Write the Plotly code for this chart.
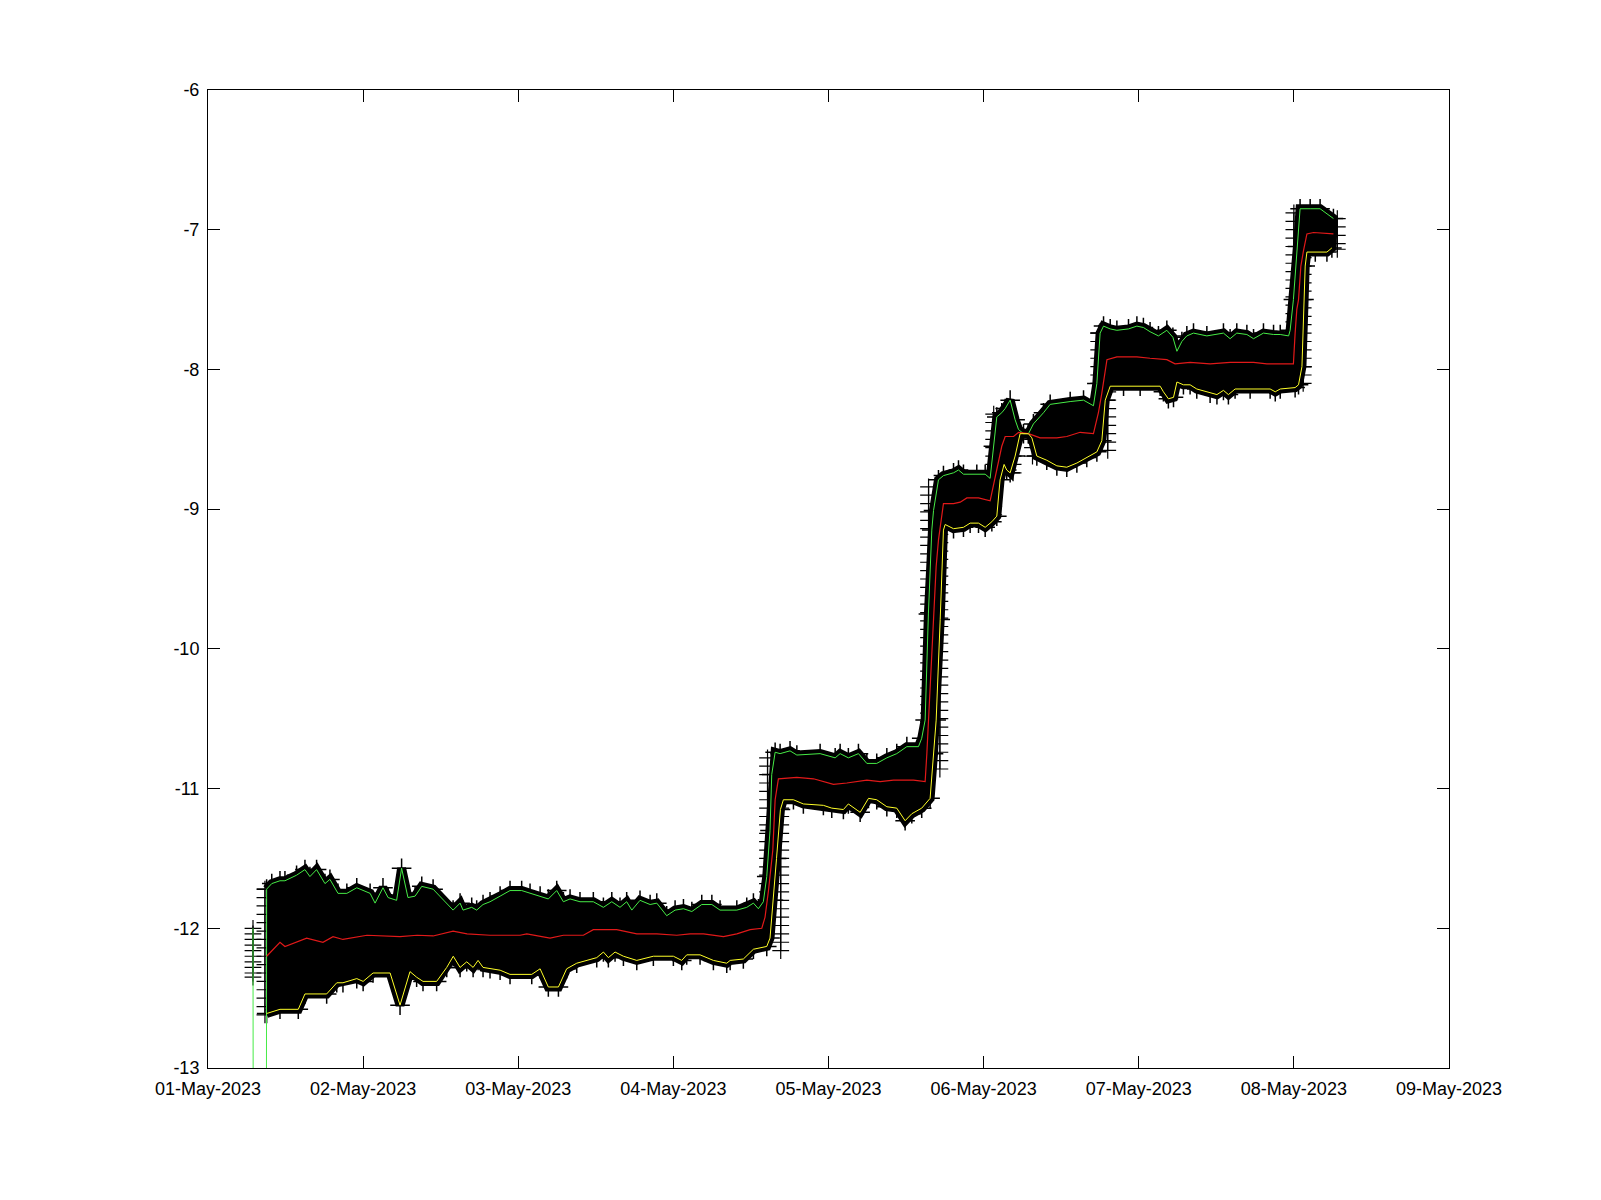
import pandas as pd
import plotly.graph_objs as go

BASE_DAY = pd.Timestamp("2023-05-01")

# days since 01-May-2023
UPPER_T = [0.378, 0.411, 0.464, 0.496, 0.571, 0.625, 0.657, 0.700, 0.754, 0.786, 0.838, 0.895,
           0.959, 1.045, 1.077, 1.128, 1.161, 1.216, 1.248, 1.289, 1.335, 1.378, 1.451, 1.580,
           1.625, 1.644, 1.700, 1.732, 1.773, 1.818, 1.883, 1.947, 2.022, 2.076, 2.141, 2.194,
           2.248, 2.291, 2.334, 2.398, 2.484, 2.549, 2.603, 2.656, 2.699, 2.732, 2.785, 2.850,
           2.893, 2.957, 3.011, 3.065, 3.119, 3.183, 3.248, 3.301, 3.409, 3.473, 3.516, 3.548,
           3.580, 3.602, 3.623, 3.634, 3.656, 3.688, 3.752, 3.796, 3.946, 4.043, 4.075, 4.128,
           4.193, 4.247, 4.311, 4.376, 4.440, 4.505, 4.580, 4.601, 4.623, 4.644, 4.666, 4.677,
           4.709, 4.741, 4.806, 4.838, 4.870, 4.956, 5.010, 5.042, 5.063, 5.085, 5.117, 5.139,
           5.171, 5.203, 5.225, 5.257, 5.289, 5.321, 5.386, 5.429, 5.558, 5.644, 5.708, 5.730,
           5.751, 5.773, 5.816, 5.859, 5.934, 5.988, 6.030, 6.073, 6.127, 6.181, 6.220, 6.246,
           6.278, 6.310, 6.353, 6.439, 6.546, 6.589, 6.632, 6.697, 6.740, 6.804, 6.869, 6.912,
           6.966, 6.976, 6.997, 7.023, 7.040, 7.105, 7.169, 7.255]
UPPER_V = [-11.72, -11.68, -11.66, -11.66, -11.62, -11.58, -11.63, -11.58, -11.68, -11.65, -11.75, -11.75,
           -11.71, -11.75, -11.82, -11.71, -11.78, -11.80, -11.57, -11.78, -11.77, -11.70, -11.72, -11.87,
           -11.82, -11.87, -11.85, -11.87, -11.83, -11.81, -11.77, -11.73, -11.73, -11.75, -11.77, -11.79,
           -11.73, -11.81, -11.79, -11.81, -11.81, -11.85, -11.81, -11.85, -11.81, -11.87, -11.80, -11.83,
           -11.82, -11.91, -11.87, -11.86, -11.88, -11.83, -11.83, -11.87, -11.87, -11.85, -11.82, -11.86,
           -11.81, -11.63, -11.30, -10.90, -10.74, -10.75, -10.73, -10.76, -10.75, -10.78, -10.75, -10.78,
           -10.75, -10.82, -10.82, -10.78, -10.75, -10.70, -10.70, -10.64, -10.51, -9.75, -9.15, -9.01,
           -8.79, -8.76, -8.74, -8.72, -8.75, -8.75, -8.75, -8.78, -8.55, -8.34, -8.31, -8.28,
           -8.22, -8.36, -8.43, -8.46, -8.46, -8.39, -8.31, -8.25, -8.23, -8.22, -8.26, -8.10,
           -7.74, -7.69, -7.71, -7.72, -7.71, -7.69, -7.70, -7.73, -7.76, -7.72, -7.77, -7.87,
           -7.80, -7.76, -7.74, -7.76, -7.74, -7.78, -7.74, -7.75, -7.78, -7.74, -7.75, -7.75,
           -7.76, -7.72, -7.50, -7.12, -6.85, -6.85, -6.85, -6.92]

MID_T = [0.378, 0.464, 0.496, 0.636, 0.741, 0.806, 0.870, 1.025, 1.238, 1.348, 1.451, 1.580,
         1.670, 1.818, 2.012, 2.055, 2.205, 2.291, 2.420, 2.484, 2.635, 2.764, 2.893, 3.022,
         3.108, 3.194, 3.323, 3.409, 3.495, 3.570, 3.591, 3.613, 3.641, 3.656, 3.677, 3.796,
         3.903, 4.032, 4.118, 4.247, 4.333, 4.419, 4.548, 4.623, 4.634, 4.644, 4.677, 4.694,
         4.709, 4.741, 4.806, 4.849, 4.892, 4.967, 5.042, 5.074, 5.117, 5.139, 5.193, 5.225,
         5.289, 5.364, 5.407, 5.472, 5.536, 5.622, 5.708, 5.740, 5.762, 5.795, 5.859, 5.988,
         6.073, 6.181, 6.234, 6.331, 6.460, 6.589, 6.740, 6.826, 6.912, 6.997, 7.008, 7.019,
         7.030, 7.045, 7.062, 7.084, 7.127, 7.255]
MID_V = [-12.20, -12.10, -12.13, -12.07, -12.10, -12.06, -12.08, -12.05, -12.06, -12.05, -12.055, -12.02,
         -12.04, -12.05, -12.05, -12.04, -12.07, -12.05, -12.05, -12.01, -12.01, -12.04, -12.04, -12.05,
         -12.04, -12.04, -12.06, -12.04, -12.01, -12.00, -11.92, -11.73, -11.44, -11.08, -10.93, -10.92,
         -10.93, -10.97, -10.96, -10.94, -10.95, -10.94, -10.94, -10.95, -10.75, -10.51, -9.79, -9.41,
         -9.22, -8.96, -8.96, -8.95, -8.92, -8.92, -8.94, -8.77, -8.55, -8.48, -8.48, -8.45,
         -8.46, -8.49, -8.49, -8.49, -8.48, -8.45, -8.46, -8.31, -8.17, -7.93, -7.91, -7.91,
         -7.92, -7.93, -7.96, -7.95, -7.96, -7.95, -7.95, -7.96, -7.96, -7.96, -7.74, -7.57,
         -7.50, -7.26, -7.15, -7.03, -7.02, -7.03]

LOWER_T = [0.378, 0.464, 0.582, 0.625, 0.765, 0.830, 0.870, 0.959, 1.000, 1.064, 1.174, 1.238,
           1.302, 1.345, 1.386, 1.474, 1.539, 1.581, 1.625, 1.668, 1.709, 1.741, 1.773, 1.818,
           1.883, 1.947, 2.087, 2.141, 2.194, 2.259, 2.312, 2.377, 2.506, 2.549, 2.581, 2.624,
           2.678, 2.764, 2.871, 3.000, 3.054, 3.086, 3.172, 3.258, 3.344, 3.366, 3.451, 3.516,
           3.602, 3.623, 3.645, 3.665, 3.690, 3.709, 3.774, 3.838, 3.967, 4.021, 4.096, 4.128,
           4.204, 4.258, 4.311, 4.376, 4.440, 4.494, 4.537, 4.601, 4.655, 4.677, 4.694, 4.720,
           4.741, 4.752, 4.806, 4.870, 4.913, 4.967, 5.010, 5.053, 5.085, 5.106, 5.132, 5.149,
           5.171, 5.203, 5.235, 5.289, 5.311, 5.343, 5.407, 5.472, 5.536, 5.601, 5.665, 5.730,
           5.762, 5.784, 5.816, 5.902, 6.009, 6.138, 6.159, 6.191, 6.224, 6.246, 6.288, 6.331,
           6.374, 6.460, 6.504, 6.546, 6.578, 6.621, 6.718, 6.847, 6.880, 6.912, 7.008, 7.030,
           7.052, 7.065, 7.073, 7.084, 7.138, 7.213, 7.245]
LOWER_V = [-12.61, -12.58, -12.58, -12.47, -12.47, -12.39, -12.39, -12.36, -12.38, -12.32, -12.32, -12.55,
           -12.31, -12.35, -12.38, -12.38, -12.28, -12.20, -12.28, -12.24, -12.28, -12.23, -12.28, -12.29,
           -12.30, -12.33, -12.33, -12.29, -12.42, -12.42, -12.29, -12.25, -12.21, -12.17, -12.21, -12.17,
           -12.20, -12.23, -12.20, -12.20, -12.23, -12.19, -12.19, -12.23, -12.25, -12.23, -12.22, -12.15,
           -12.13, -12.07, -11.80, -11.50, -11.15, -11.08, -11.08, -11.11, -11.12, -11.14, -11.15, -11.11,
           -11.17, -11.07, -11.08, -11.13, -11.14, -11.23, -11.18, -11.14, -11.07, -10.75, -10.51, -9.79,
           -9.15, -9.11, -9.14, -9.13, -9.10, -9.10, -9.13, -9.09, -9.05, -8.79, -8.68, -8.72,
           -8.74, -8.62, -8.46, -8.46, -8.49, -8.62, -8.65, -8.69, -8.70, -8.67, -8.63, -8.59,
           -8.51, -8.22, -8.12, -8.12, -8.12, -8.12, -8.16, -8.21, -8.20, -8.09, -8.11, -8.11,
           -8.14, -8.17, -8.18, -8.15, -8.18, -8.14, -8.14, -8.14, -8.16, -8.14, -8.13, -8.11,
           -7.98, -7.50, -7.26, -7.16, -7.16, -7.16, -7.13]

# the upper envelope dips off the axis just before the main record starts
UPPER_DIP_T = [0.290, 0.292, 0.376, 0.378]
UPPER_DIP_V = [-12.00, -14.00, -14.00, -11.72]

# '+' markers stacked on the steep edges: (day, values)
EDGE_TICKS = [
    (0.290, [-12.00, -12.04, -12.08, -12.12, -12.16, -12.20, -12.24, -12.28, -12.32, -12.35]),
    (0.367, [-11.72, -11.78, -11.84, -11.90, -11.96, -12.02, -12.08, -12.14, -12.20, -12.26,
             -12.32, -12.38, -12.44, -12.50, -12.56, -12.62]),
    (3.607, [-11.86, -11.80, -11.74, -11.68, -11.62, -11.56, -11.50, -11.44, -11.38, -11.32,
             -11.26, -11.20, -11.14, -11.08, -11.02, -10.96, -10.90, -10.84, -10.78]),
    (3.692, [-12.16, -12.10, -12.04, -11.98, -11.92, -11.86, -11.80, -11.74, -11.68, -11.62,
             -11.56, -11.50, -11.44, -11.38, -11.32, -11.26, -11.20, -11.14]),
    (4.645, [-10.70, -10.64, -10.58, -10.52, -10.46, -10.40, -10.34, -10.28, -10.22, -10.16,
             -10.10, -10.04, -9.98, -9.92, -9.86, -9.80, -9.74, -9.68, -9.62, -9.56, -9.50,
             -9.44, -9.38, -9.32, -9.26, -9.20, -9.14, -9.08, -9.02, -8.96, -8.90, -8.84]),
    (4.718, [-10.86, -10.80, -10.74, -10.68, -10.62, -10.56, -10.50, -10.44, -10.38, -10.32,
             -10.26, -10.20, -10.14, -10.08, -10.02, -9.96, -9.90, -9.84, -9.78, -9.72, -9.66,
             -9.60, -9.54, -9.48, -9.42, -9.36, -9.30, -9.24, -9.18, -9.12]),
    (5.065, [-8.32, -8.38, -8.44, -8.50, -8.56, -8.62, -8.68, -8.74, -8.80, -8.86, -8.92, -8.98, -9.04]),
    (5.190, [-8.62, -8.68, -8.74]),
    (5.315, [-8.44, -8.50, -8.56, -8.62]),
    (5.742, [-7.74, -7.80, -7.86, -7.92, -7.98, -8.04, -8.10]),
    (5.800, [-8.10, -8.16, -8.22, -8.28, -8.34, -8.40, -8.46, -8.52, -8.58]),
    (7.000, [-6.88, -6.94, -7.00, -7.06, -7.12, -7.18, -7.24, -7.30, -7.36, -7.42, -7.48, -7.54,
             -7.60, -7.66, -7.72]),
    (7.060, [-7.20, -7.26, -7.32, -7.38, -7.44, -7.50, -7.56, -7.62, -7.68, -7.74, -7.80, -7.86,
             -7.92, -7.98, -8.04, -8.10]),
    (7.280, [-6.92, -6.98, -7.04, -7.10, -7.14]),
]

X_TICK_DAYS = [0, 1, 2, 3, 4, 5, 6, 7, 8]
Y_TICKS = [-13, -12, -11, -10, -9, -8, -7, -6]

GREEN = "rgb(70,235,70)"
RED = "rgb(225,25,25)"
YELLOW = "rgb(255,255,40)"


def to_dates(days):
    return list(BASE_DAY + pd.to_timedelta(days, unit="D"))


# black body of the cloud: upper envelope out, lower envelope back
poly_t = UPPER_T + LOWER_T[::-1]
poly_v = UPPER_V + LOWER_V[::-1]

tick_t = []
tick_v = []
for t, vals in EDGE_TICKS:
    tick_t += [t] * len(vals)
    tick_v += vals

fig = go.Figure()
fig.add_trace(
    go.Scatter(
        x=to_dates(poly_t), y=poly_v, mode="lines", fill="toself",
        fillcolor="black", line=dict(color="black", width=9),
        hoverinfo="skip",
    )
)
fig.add_trace(
    go.Scatter(
        x=to_dates(UPPER_T + LOWER_T), y=UPPER_V + LOWER_V, mode="markers",
        marker=dict(symbol="cross-thin", size=14, line=dict(color="black", width=1.5)),
        hoverinfo="skip",
    )
)
fig.add_trace(
    go.Scatter(
        x=to_dates(tick_t), y=tick_v, mode="markers",
        marker=dict(symbol="cross-thin", size=12, line=dict(color="black", width=1.2)),
        hoverinfo="skip",
    )
)
fig.add_trace(
    go.Scatter(x=to_dates(UPPER_DIP_T), y=UPPER_DIP_V, mode="lines",
               line=dict(color=GREEN, width=1))
)
fig.add_trace(
    go.Scatter(x=to_dates(UPPER_T), y=UPPER_V, mode="lines",
               line=dict(color=GREEN, width=1))
)
fig.add_trace(
    go.Scatter(x=to_dates(MID_T), y=MID_V, mode="lines",
               line=dict(color=RED, width=1.2))
)
fig.add_trace(
    go.Scatter(x=to_dates(LOWER_T), y=LOWER_V, mode="lines",
               line=dict(color=YELLOW, width=1))
)

x_ticks = to_dates(X_TICK_DAYS)
fig.update_layout(
    width=1601,
    height=1200,
    showlegend=False,
    paper_bgcolor="white",
    plot_bgcolor="white",
    margin=dict(l=208, r=152, t=90, b=132),
    font=dict(family="Liberation Sans, Arial, sans-serif", size=18, color="black"),
    xaxis=dict(
        range=[x_ticks[0], x_ticks[-1]],
        tickvals=x_ticks,
        ticktext=[d.strftime("%d-%b-%Y") for d in x_ticks],
        ticks="inside", ticklen=12, tickcolor="black",
        ticklabelstandoff=4,
        showline=True, linecolor="black", linewidth=1, mirror="ticks",
        showgrid=False, zeroline=False,
    ),
    yaxis=dict(
        range=[-13, -6],
        tickvals=Y_TICKS,
        ticktext=[str(v) for v in Y_TICKS],
        ticks="inside", ticklen=12, tickcolor="black",
        ticklabelstandoff=4,
        showline=True, linecolor="black", linewidth=1, mirror="ticks",
        showgrid=False, zeroline=False,
    ),
)

# drop the page's default body margin so the figure sits at the window's corner
fig.write_html(
    "out.html",
    config={"displayModeBar": False},
    post_script="document.body.style.margin = '0';",
)
